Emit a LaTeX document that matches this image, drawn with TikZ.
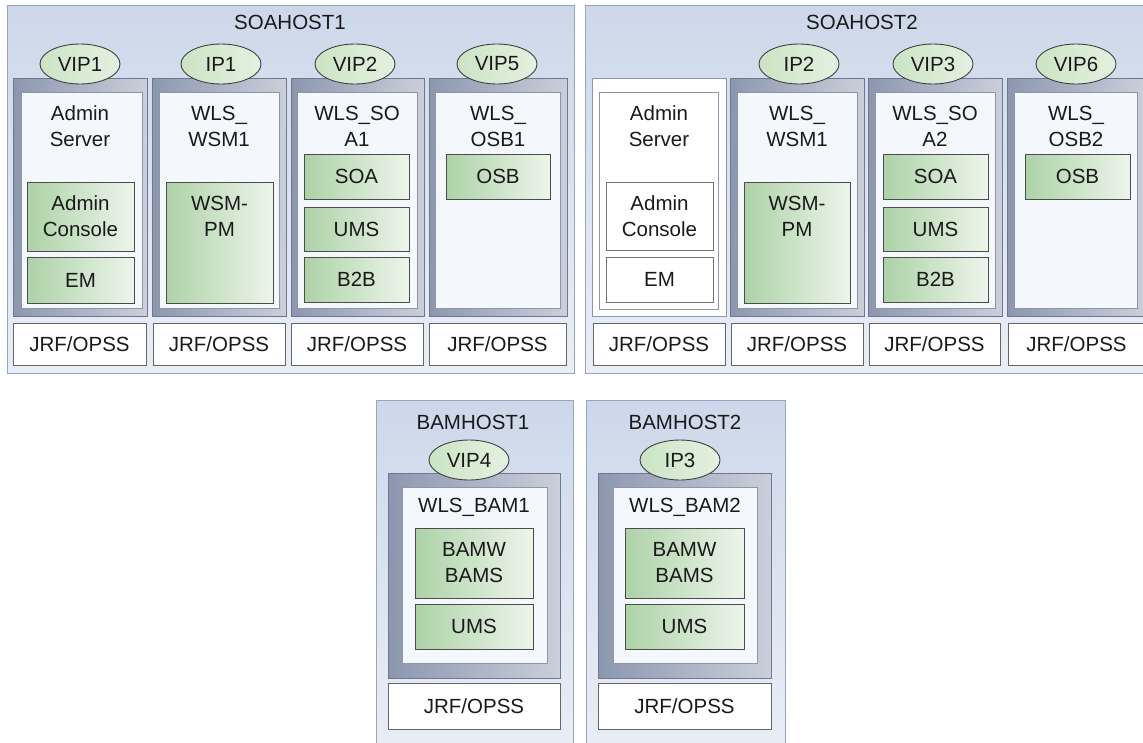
\documentclass[tikz,border=0pt]{standalone}
\usepackage{fontspec}
\setmainfont{Liberation Sans}
\usetikzlibrary{shapes.geometric}
\definecolor{hostA}{HTML}{CCD8EA}
\definecolor{hostB}{HTML}{E9EEF6}
\definecolor{hostline}{HTML}{98A6BD}
\definecolor{frameA}{HTML}{8C97AF}
\definecolor{frameB}{HTML}{CACFDA}
\definecolor{frameline}{HTML}{6E7890}
\definecolor{innerfill}{HTML}{F4F7FB}
\definecolor{innerline}{HTML}{8E97A8}
\definecolor{greenA}{HTML}{ADD2A7}
\definecolor{greenB}{HTML}{EDF5EB}
\definecolor{ellA}{HTML}{CBE4C4}
\definecolor{ellB}{HTML}{E4F1E1}
\definecolor{txt}{HTML}{1A1A1A}
\tikzset{
  base/.style={inner sep=0pt, outer sep=0pt, anchor=center},
  hostbox/.style={base, draw=hostline, line width=1pt, top color=hostA, bottom color=hostB},
  framebox/.style={base, draw=frameline, line width=1pt, left color=frameA, right color=frameB},
  plainframe/.style={base, draw=innerline, line width=1pt, fill=white},
  innerbox/.style={base, draw=innerline, line width=0.8pt, fill=innerfill},
  plaininner/.style={base, draw=innerline, line width=0.8pt, fill=white},
  greenbox/.style={base, draw=black!70, line width=0.9pt, left color=greenA, right color=greenB},
  whitebox/.style={base, draw=black!55, line width=0.9pt, fill=white},
  jrfbox/.style={base, draw=black!60, line width=0.9pt, fill=white},
  ipell/.style={ellipse, inner sep=0pt, outer sep=0pt, minimum width=80pt, minimum height=40pt,
     draw=black!75, line width=0.9pt, left color=ellA, right color=ellB},
  lbl/.style={inner sep=0pt, outer sep=0pt, align=center, text=txt,
     font=\fontsize{20.5}{26}\selectfont},
}
% box: name, style, x1, y1, x2, y2, text
\newcommand\bx[7]{\node[#2, minimum width={(#5-#3)*1pt}, minimum height={(#6-#4)*1pt},
  font=\fontsize{20.5}{26}\selectfont, align=center, text=txt] (#1) at ({(#3+#5)/2},{(#4+#6)/2}) {#7};}
\begin{document}
\begin{tikzpicture}[x=1pt,y=-1pt]
\useasboundingbox (0,0) rectangle (1143,742);

% ===== SOAHOST1 =====
\bx{h1}{hostbox}{7}{5}{574}{373}{}
\node[lbl] (h1t) at (290,22) {SOAHOST1};
% columns
\bx{h1f1}{framebox}{13}{78}{147}{316}{}
\bx{h1f2}{framebox}{152}{78}{286}{316}{}
\bx{h1f3}{framebox}{291}{78}{424}{316}{}
\bx{h1f4}{framebox}{429}{78}{567}{316}{}
\bx{h1i1}{innerbox}{21}{92}{142}{308}{}
\bx{h1i2}{innerbox}{159}{92}{279}{308}{}
\bx{h1i3}{innerbox}{297}{92}{417}{308}{}
\bx{h1i4}{innerbox}{435}{92}{560}{308}{}
\node[lbl] (h1s1) at (80,126.5) {Admin\\Server};
\node[lbl] (h1s2) at (219,126.5) {WLS\_\\WSM1};
\node[lbl] (h1s3) at (357,126.5) {WLS\_SO\\A1};
\node[lbl] (h1s4) at (498,126.5) {WLS\_\\OSB1};
\node[ipell, lbl] (vip1) at (80,64) {VIP1};
\node[ipell, lbl] (ip1) at (221,64) {IP1};
\node[ipell, lbl] (vip2) at (355,64) {VIP2};
\node[ipell, lbl] (vip5) at (497,64) {VIP5};
\bx{h1ac}{greenbox}{27}{182}{134}{251}{Admin\\Console}
\bx{h1em}{greenbox}{27}{257}{134}{303}{EM}
\bx{h1wsm}{greenbox}{166}{182}{273}{303}{}
\node[lbl] (h1wsmt) at (219.5,216) {WSM-\\PM};
\bx{h1soa}{greenbox}{304}{154}{409}{199}{SOA}
\bx{h1ums}{greenbox}{304}{207}{409}{251}{UMS}
\bx{h1b2b}{greenbox}{304}{257}{409}{302}{B2B}
\bx{h1osb}{greenbox}{446}{154}{550}{199}{OSB}
\bx{h1j1}{jrfbox}{13}{323}{146}{365}{JRF/OPSS}
\bx{h1j2}{jrfbox}{153}{323}{285}{365}{JRF/OPSS}
\bx{h1j3}{jrfbox}{291}{323}{423}{365}{JRF/OPSS}
\bx{h1j4}{jrfbox}{429}{323}{566}{365}{JRF/OPSS}

% ===== SOAHOST2 =====
\bx{h2}{hostbox}{585}{5}{1152}{373}{}
\node[lbl] (h2t) at (862,22) {SOAHOST2};
\bx{h2f1}{plainframe}{592}{78}{726}{316}{}
\bx{h2f2}{framebox}{730}{78}{864}{316}{}
\bx{h2f3}{framebox}{868}{78}{1002}{316}{}
\bx{h2f4}{framebox}{1007}{78}{1145}{316}{}
\bx{h2i1}{plaininner}{599}{92}{718}{309}{}
\bx{h2i2}{innerbox}{737}{92}{857}{308}{}
\bx{h2i3}{innerbox}{875}{92}{995}{308}{}
\bx{h2i4}{innerbox}{1014}{92}{1137}{308}{}
\node[lbl] (h2s1) at (659,126.5) {Admin\\Server};
\node[lbl] (h2s2) at (797,126.5) {WLS\_\\WSM1};
\node[lbl] (h2s3) at (935,126.5) {WLS\_SO\\A2};
\node[lbl] (h2s4) at (1076,126.5) {WLS\_\\OSB2};
\node[ipell, lbl] (ip2) at (799,64) {IP2};
\node[ipell, lbl] (vip3) at (933,64) {VIP3};
\node[ipell, lbl] (vip6) at (1076,64) {VIP6};
\bx{h2ac}{whitebox}{606}{182}{713}{250}{Admin\\Console}
\bx{h2em}{whitebox}{606}{257}{713}{302}{EM}
\bx{h2wsm}{greenbox}{744}{182}{850}{303}{}
\node[lbl] (h2wsmt) at (797,216) {WSM-\\PM};
\bx{h2soa}{greenbox}{883}{154}{988}{199}{SOA}
\bx{h2ums}{greenbox}{883}{207}{988}{251}{UMS}
\bx{h2b2b}{greenbox}{883}{257}{988}{302}{B2B}
\bx{h2osb}{greenbox}{1025}{154}{1130}{199}{OSB}
\bx{h2j1}{jrfbox}{593}{323}{725}{365}{JRF/OPSS}
\bx{h2j2}{jrfbox}{731}{323}{863}{365}{JRF/OPSS}
\bx{h2j3}{jrfbox}{869}{323}{1000}{365}{JRF/OPSS}
\bx{h2j4}{jrfbox}{1008}{323}{1145}{365}{JRF/OPSS}

% ===== BAMHOST1 =====
\bx{b1}{hostbox}{376}{400}{573}{752}{}
\node[lbl] (b1t) at (473,422) {BAMHOST1};
\bx{b1f}{framebox}{388}{473}{560}{678}{}
\bx{b1i}{innerbox}{402}{487}{547}{663}{}
\node[ipell, lbl] (vip4) at (469,460) {VIP4};
\node[lbl] (b1s) at (474,507) {WLS\_BAM1};
\bx{b1bam}{greenbox}{415}{528}{533}{598}{BAMW\\BAMS}
\bx{b1ums}{greenbox}{415}{604}{533}{649}{UMS}
\bx{b1j}{jrfbox}{388}{683}{560}{729}{JRF/OPSS}

% ===== BAMHOST2 =====
\bx{b2}{hostbox}{586}{400}{785}{752}{}
\node[lbl] (b2t) at (685,422) {BAMHOST2};
\bx{b2f}{framebox}{598}{473}{771}{678}{}
\bx{b2i}{innerbox}{613}{487}{757}{663}{}
\node[ipell, lbl] (ip3) at (680,460) {IP3};
\node[lbl] (b2s) at (685,507) {WLS\_BAM2};
\bx{b2bam}{greenbox}{625}{528}{744}{598}{BAMW\\BAMS}
\bx{b2ums}{greenbox}{625}{604}{744}{649}{UMS}
\bx{b2j}{jrfbox}{598}{683}{771}{729}{JRF/OPSS}
\end{tikzpicture}
\end{document}
